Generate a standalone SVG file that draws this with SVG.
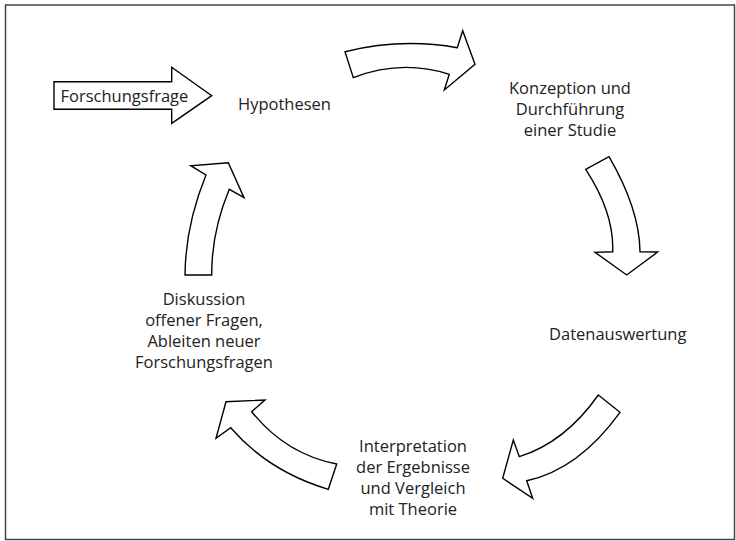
<svg xmlns="http://www.w3.org/2000/svg" width="736" height="541" viewBox="0 0 736 541">
<style>
.t{font-family:"Open Sans","Noto Sans","Liberation Sans",sans-serif;font-size:16.5px;fill:#222;}
.c{text-anchor:middle;}
.a{fill:#fff;stroke:#000;stroke-width:1.4;stroke-linejoin:miter;}
</style>
<rect x="5.5" y="5" width="729" height="534.5" fill="#fff" stroke="#444" stroke-width="1.5"/>
<g id="connectors">
<path id="arrow-start" class="a" d="M54,81.7 L171.7,81.7 L171.7,67.3 L211.7,95.7 L171.7,123.3 L171.7,109.3 L54,109.3 Z"/>
<path id="arrow-1" class="a" d="M345,51.7 Q401,37.7 457.3,47.7 L462.7,30.7 L475,64.3 L444.3,90 L449.3,74.3 Q401,59 353.3,77.7 Z"/>
<path id="arrow-2" class="a" d="M585.7,169.3 L609,156.7 Q639.5,209.2 640,251.7 L657.7,252 L626.7,275 L595,252.3 L612.7,251.7 Q614.2,212.9 585.7,169.3 Z"/>
<path id="arrow-3" class="a" d="M598.3,395 L620,412.3 Q578.6,469.5 526.7,480.7 L532.7,498.3 L502.7,478.3 L513.3,440 L519.3,456.7 Q565.2,442.2 598.3,395 Z"/>
<path id="arrow-4" class="a" d="M336.7,464 Q285.8,454.2 251.7,411.7 L265,400 L226,401.7 L216,438.3 L230.7,427.7 Q268.5,471.5 328.3,489.3 Z"/>
<path id="arrow-5" class="a" d="M185,275 Q185.5,225 206,175 L190.7,165.7 L228.3,162.7 L244,197.7 L229.3,189.3 Q211.5,231.8 211.7,275 Z"/>
</g>
<g id="node-forschungsfrage"><text class="t" x="60.5" y="102">Forschungsfrage</text></g>
<g id="node-hypothesen"><text class="t" x="238" y="110">Hypothesen</text></g>
<g id="node-konzeption"><text class="t c" x="570" y="94"><tspan x="570">Konzeption und</tspan><tspan x="570" dy="21">Durchführung</tspan><tspan x="570" dy="21">einer Studie</tspan></text></g>
<g id="node-daten"><text class="t" x="549" y="340">Datenauswertung</text></g>
<g id="node-interpretation"><text class="t c" x="413" y="452"><tspan x="413">Interpretation</tspan><tspan x="413" dy="21">der Ergebnisse</tspan><tspan x="413" dy="21">und Vergleich</tspan><tspan x="413" dy="21">mit Theorie</tspan></text></g>
<g id="node-diskussion"><text class="t c" x="204" y="305"><tspan x="204">Diskussion</tspan><tspan x="204" dy="21">offener Fragen,</tspan><tspan x="204" dy="21">Ableiten neuer</tspan><tspan x="204" dy="21">Forschungsfragen</tspan></text></g>
</svg>
